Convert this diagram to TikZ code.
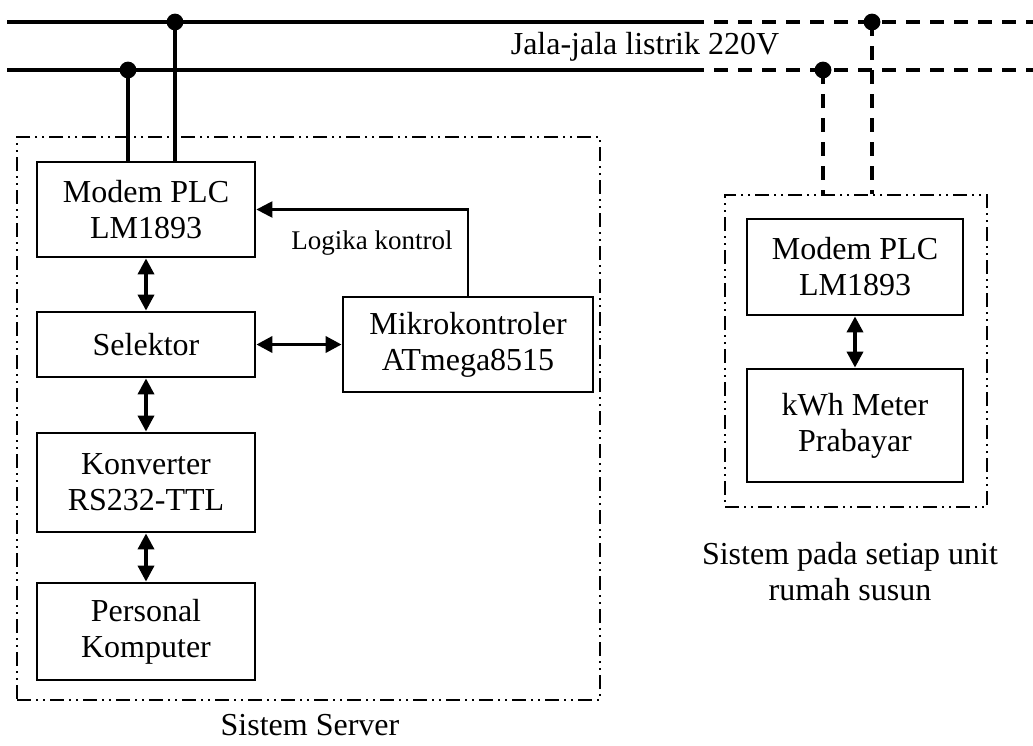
\documentclass[tikz,border=0pt]{standalone}
\usepackage{fontspec}
\setmainfont{Liberation Serif}
\usetikzlibrary{arrows.meta}
\definecolor{PlcInk}{HTML}{000000}
\tikzset{
  every node/.style={font=\fontsize{16}{18}\selectfont, text=PlcInk},
  block/.style={draw=PlcInk, line width=1.4pt, align=center, inner sep=0pt},
  groupframe/.style={draw=PlcInk, line width=1.2pt, inner sep=0pt,
    dash pattern=on 7pt off 2.5pt on 1pt off 2.5pt on 1pt off 2.5pt},
  mains/.style={draw=PlcInk, line width=1.6pt},
  mainsdash/.style={mains, dash pattern=on 7pt off 5pt},
  biarrow/.style={{Triangle[length=8pt,width=8pt]}-{Triangle[length=8pt,width=8pt]}, draw=PlcInk, line width=1.8pt},
  ctrlarrow/.style={-{Triangle[length=8pt,width=8pt]}, draw=PlcInk, line width=1.2pt},
  tap/.style={fill=PlcInk},
}

\begin{document}
\begin{tikzpicture}[x=0.5pt, y=-0.5pt]
  \useasboundingbox (0,0) rectangle (1033,745);
  % Group frames
  \node[groupframe, minimum width=291.5pt, minimum height=281.5pt] (srvframe) at (308.5,418.5) {};
  \node[groupframe, minimum width=131pt, minimum height=156pt] (unitframe) at (856,351) {};
  \node (srvlabel) at (310,725) {Sistem Server};
  \node[align=center] (unitlabel) at (850,572) {Sistem pada setiap unit\\rumah susun};
  % Power lines
  \coordinate (lineAstart) at (7,22);
  \coordinate (lineAbreak) at (690,22);
  \coordinate (lineAend) at (1033,22);
  \coordinate (lineBstart) at (7,70);
  \coordinate (lineBbreak) at (690,70);
  \coordinate (lineBend) at (1033,70);
  \draw[mains] (lineAstart) -- (lineAbreak);
  \draw[mainsdash] (lineAbreak) -- (lineAend);
  \draw[mains] (lineBstart) -- (lineBbreak);
  \draw[mainsdash] (lineBbreak) -- (lineBend);
  \node (mainslabel) at (645,47) {Jala-jala listrik 220V};
  % Server blocks
  \node[block, minimum width=109pt, minimum height=47.5pt] (srvmodem) at (146,209.5) {Modem PLC\\LM1893};
  \node[block, minimum width=109pt, minimum height=32.5pt] (selektor) at (146,344.5) {Selektor};
  \node[block, minimum width=109pt, minimum height=49.5pt] (konverter) at (146,482.5) {Konverter\\RS232-TTL};
  \node[block, minimum width=109pt, minimum height=48.5pt] (pc) at (146,631.5) {Personal\\Komputer};
  \node[block, minimum width=125pt, minimum height=47.5pt] (mikro) at (468,344.5) {Mikrokontroler\\ATmega8515};
  \draw[biarrow] (srvmodem.south) -- (selektor.north);
  \draw[biarrow] (selektor.south) -- (konverter.north);
  \draw[biarrow] (konverter.south) -- (pc.north);
  \draw[biarrow] (selektor.east) -- (mikro.west);
  \draw[ctrlarrow] (mikro.north) |- (srvmodem.east);
  \node[font=\fontsize{13.5}{15}\selectfont] (ctrllabel) at (372,243) {Logika kontrol};
  % Server taps on the mains
  \coordinate (tapA) at (175,22);
  \coordinate (tapB) at (128,70);
  \draw[mains] (tapA) -- (tapA |- srvmodem.north);
  \draw[mains] (tapB) -- (tapB |- srvmodem.north);
  \fill[tap] (tapA) circle (4.2pt);
  \fill[tap] (tapB) circle (4.2pt);
  % Unit blocks
  \node[block, minimum width=108pt, minimum height=48pt] (unitmodem) at (855,267) {Modem PLC\\LM1893};
  \node[block, minimum width=108pt, minimum height=56.5pt] (kwh) at (855,425.5) {kWh Meter\\Prabayar};
  \draw[biarrow] (unitmodem.south) -- (kwh.north);
  % Unit taps on the mains
  \coordinate (tapC) at (872,22);
  \coordinate (tapD) at (823,70);
  \draw[mainsdash] (tapC) -- (tapC |- unitframe.north);
  \draw[mainsdash] (tapD) -- (tapD |- unitframe.north);
  \fill[tap] (tapC) circle (4.2pt);
  \fill[tap] (tapD) circle (4.2pt);
\end{tikzpicture}
\end{document}
